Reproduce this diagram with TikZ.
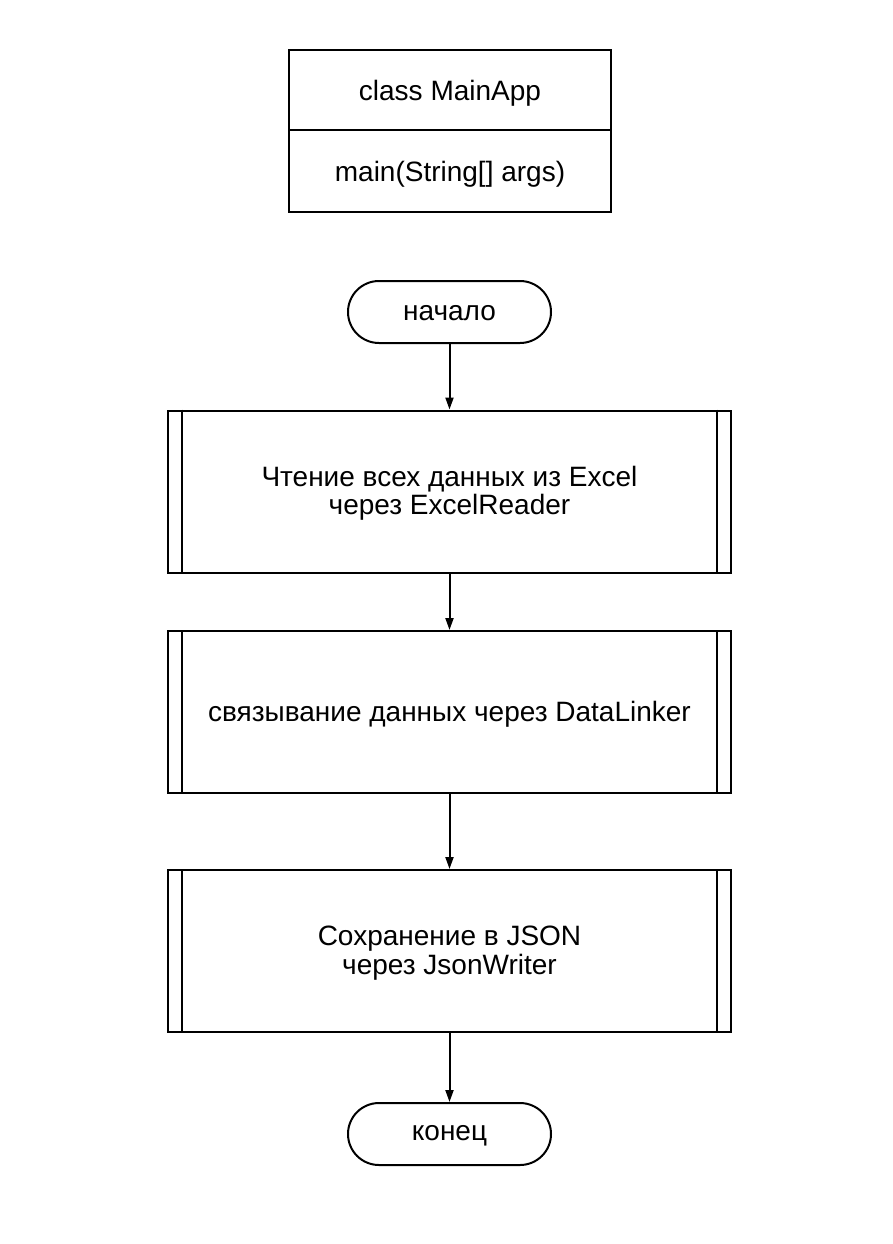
\documentclass[tikz,border=0pt]{standalone}
\usepackage{fontspec}
\setmainfont{Liberation Sans}
\usetikzlibrary{arrows.meta}
\begin{document}
\begin{tikzpicture}[x=1pt,y=-1pt,
  every node/.style={inner sep=0pt},
  txt/.style={font=\fontsize{28}{28.5}\selectfont, align=center},
  box/.style={draw, line width=2pt, rectangle, minimum width=322pt},
  term/.style={draw, line width=2pt, rectangle, rounded corners=31pt, minimum width=203pt, minimum height=62pt},
  proc/.style={draw, line width=2pt, rectangle, minimum width=563pt, minimum height=162pt},
  inner/.style={line width=2pt},
  flow/.style={line width=2pt, -{Triangle[width=8pt,length=12pt]}}]
\useasboundingbox (0,0) rectangle (892,1244);
\node[box, minimum height=80pt] (cls) at (450,90) {};
\node[box, minimum height=82pt] (meth) at (450,171) {};
\node[term] (start) at (449.5,312) {};
\node[proc] (p1) at (449.5,491.5) {};
\node[proc] (p2) at (449.5,712) {};
\node[proc] (p3) at (449.5,951) {};
\node[term] (end) at (449.5,1134) {};
\node[txt, yshift=-3pt] (clst) at (cls.center) {class MainApp};
\node[txt, yshift=-3pt] (metht) at (meth.center) {main(String[] args)};
\node[txt, yshift=-1pt] (startt) at (start.center) {начало};
\node[txt, yshift=-2pt] (p1t) at (p1.center) {Чтение всех данных из Excel\\через ExcelReader};
\node[txt, yshift=-2pt] (p2t) at (p2.center) {связывание данных через DataLinker};
\node[txt, yshift=-2pt] (p3t) at (p3.center) {Сохранение в JSON\\через JsonWriter};
\node[txt, yshift=-2pt] (endt) at (end.center) {конец};
\foreach \p in {p1,p2,p3}{
  \draw[inner] ([xshift=15pt]\p.north west) -- ([xshift=15pt]\p.south west);
  \draw[inner] ([xshift=-15pt]\p.north east) -- ([xshift=-15pt]\p.south east);
}
\draw[flow] (start) -- (p1);
\draw[flow] (p1) -- (p2);
\draw[flow] (p2) -- (p3);
\draw[flow] (p3) -- (end);
\end{tikzpicture}
\end{document}
